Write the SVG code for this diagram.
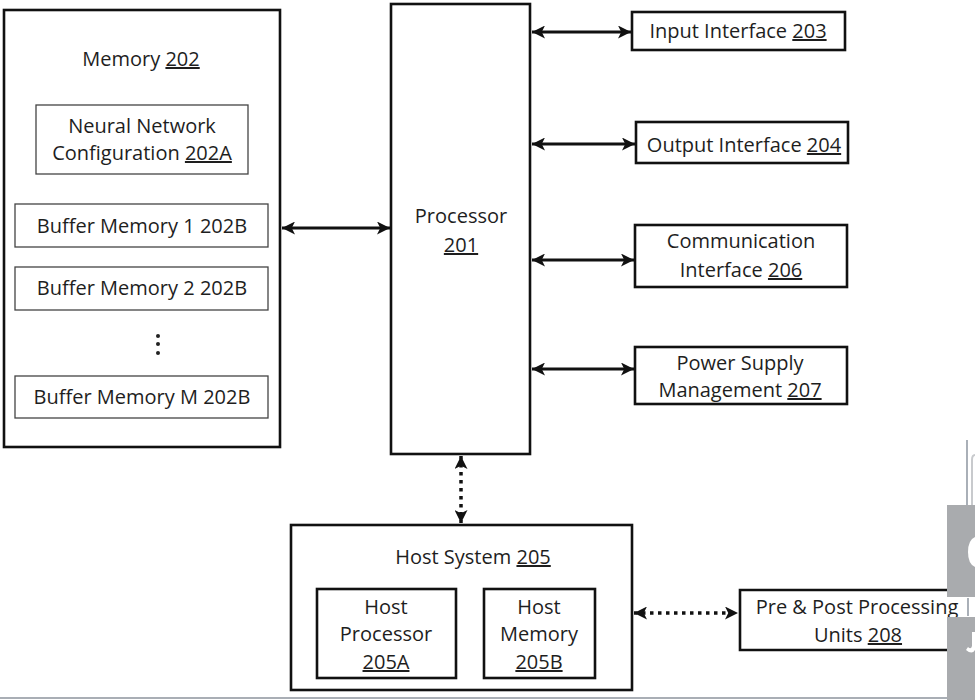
<svg xmlns="http://www.w3.org/2000/svg" width="975" height="700" viewBox="0 0 975 700">
<defs>
<style>
.t{font-family:"Open Sans","Liberation Sans",sans-serif;font-size:20px;fill:#1e1e1e;text-anchor:middle}
.u{text-decoration:underline}
.thick{fill:#fff;stroke:#111;stroke-width:2.6}
.thin{fill:#fff;stroke:#444;stroke-width:1.3}
.con{fill:none;stroke:#111;stroke-width:3}
.dot{fill:none;stroke:#111;stroke-width:3.5;stroke-dasharray:3.5 4.5}
</style>
<marker id="ah" viewBox="0 0 10 10" refX="10" refY="5" markerWidth="13" markerHeight="13" markerUnits="userSpaceOnUse" orient="auto-start-reverse">
<path d="M0,0 L10,5 L0,10 L2.5,5 Z" fill="#111"/>
</marker>
</defs>
<rect width="975" height="700" fill="#fff"/>

<g id="memory">
<rect class="thick" x="4" y="10" width="276" height="437"/>
<text class="t" x="141" y="66">Memory <tspan class="u">202</tspan></text>
</g>
<g id="nn-config">
<rect class="thin" x="36" y="105" width="212" height="69"/>
<text class="t" x="142" y="133">Neural Network</text>
<text class="t" x="142" y="160">Configuration <tspan class="u">202A</tspan></text>
</g>
<g id="buffer1">
<rect class="thin" x="15" y="204" width="253" height="43"/>
<text class="t" x="142" y="233">Buffer Memory 1 202B</text>
</g>
<g id="buffer2">
<rect class="thin" x="15" y="267" width="253" height="43"/>
<text class="t" x="142" y="295">Buffer Memory 2 202B</text>
</g>
<g id="ellipsis">
<circle cx="158" cy="336" r="2" fill="#222"/>
<circle cx="158" cy="344" r="2" fill="#222"/>
<circle cx="158" cy="353" r="2" fill="#222"/>
</g>
<g id="bufferM">
<rect class="thin" x="15" y="376" width="253" height="42"/>
<text class="t" x="142" y="404">Buffer Memory M 202B</text>
</g>

<g id="processor">
<rect class="thick" x="391" y="4" width="139" height="450"/>
<text class="t" x="461" y="223">Processor</text>
<text class="t" x="461" y="252"><tspan class="u">201</tspan></text>
</g>

<g id="input-interface">
<rect class="thick" x="632" y="12" width="213" height="38"/>
<text class="t" x="738" y="38">Input Interface <tspan class="u">203</tspan></text>
</g>
<g id="output-interface">
<rect class="thick" x="636" y="122" width="212" height="41"/>
<text class="t" x="744" y="152">Output Interface <tspan class="u">204</tspan></text>
</g>
<g id="comm-interface">
<rect class="thick" x="635" y="225" width="212" height="62"/>
<text class="t" x="741" y="248">Communication</text>
<text class="t" x="741" y="277">Interface <tspan class="u">206</tspan></text>
</g>
<g id="power">
<rect class="thick" x="635" y="347" width="212" height="57"/>
<text class="t" x="740" y="370">Power Supply</text>
<text class="t" x="740" y="397">Management <tspan class="u">207</tspan></text>
</g>

<g id="host-system">
<rect class="thick" x="291" y="525" width="341" height="165"/>
<text class="t" x="473" y="564">Host System <tspan class="u">205</tspan></text>
</g>
<g id="host-processor">
<rect class="thick" x="317" y="589" width="139" height="89"/>
<text class="t" x="386" y="614">Host</text>
<text class="t" x="386" y="641">Processor</text>
<text class="t" x="386" y="669"><tspan class="u">205A</tspan></text>
</g>
<g id="host-memory">
<rect class="thick" x="484" y="589" width="111" height="89"/>
<text class="t" x="539" y="614">Host</text>
<text class="t" x="539" y="641">Memory</text>
<text class="t" x="539" y="669"><tspan class="u">205B</tspan></text>
</g>
<g id="pre-post">
<path class="thick" d="M975,590 H740 V650 H975"/>
<text class="t" x="857" y="614">Pre &amp; Post Processing</text>
<text class="t" x="858" y="642">Units <tspan class="u">208</tspan></text>
</g>

<g id="connectors">
<line class="con" x1="282" y1="228" x2="390" y2="228" marker-start="url(#ah)" marker-end="url(#ah)"/>
<line class="con" x1="532" y1="32" x2="631" y2="32" marker-start="url(#ah)" marker-end="url(#ah)"/>
<line class="con" x1="532" y1="144" x2="635" y2="144" marker-start="url(#ah)" marker-end="url(#ah)"/>
<line class="con" x1="532" y1="260" x2="634" y2="260" marker-start="url(#ah)" marker-end="url(#ah)"/>
<line class="con" x1="532" y1="369" x2="634" y2="369" marker-start="url(#ah)" marker-end="url(#ah)"/>
<line class="dot" x1="461" y1="456" x2="461" y2="523" marker-start="url(#ah)" marker-end="url(#ah)"/>
<line class="dot" x1="634" y1="613" x2="738" y2="613" marker-start="url(#ah)" marker-end="url(#ah)"/>
</g>

<g id="edge-artifacts">
<line x1="0" y1="698" x2="947" y2="698" stroke="#8c939c" stroke-width="1.5"/>
<line x1="967" y1="440" x2="967" y2="505" stroke="#7c8591" stroke-width="1.3"/>
<path d="M975,455 Q972,455 972,460 V505" fill="none" stroke="#c8cacd" stroke-width="2"/>
<rect x="947" y="505" width="28" height="92" fill="#a9abae"/>
<path d="M975,537 Q968,540 968,552 Q968,564 975,567 Z" fill="#fff"/>
<line x1="968" y1="598" x2="968" y2="616" stroke="#7c8591" stroke-width="1.3"/>
<rect x="947" y="617" width="28" height="83" fill="#a9abae"/>
<path d="M975,632 V650 Q972,655 966,650 L968,647 Q971,650 972,646 V632 Z" fill="#fff"/>
</g>
</svg>
